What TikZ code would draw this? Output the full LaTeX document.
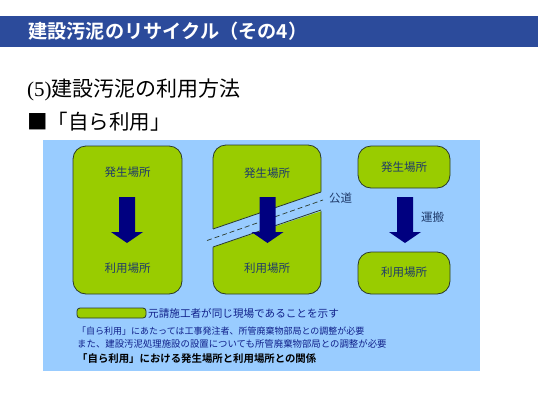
\documentclass[tikz,border=0pt]{standalone}
\usepackage{fontspec}
\newfontfamily\jp{Noto Sans CJK JP}
\newfontfamily\jpb{Noto Sans CJK JP Bold}
\newfontfamily\tms{Liberation Serif}
\definecolor{barblue}{HTML}{2C4B9B}
\definecolor{panelblue}{HTML}{99CCFF}
\definecolor{leaf}{HTML}{99CC00}
\definecolor{navyarrow}{HTML}{000080}
\definecolor{boxtext}{HTML}{1F3A6A}
\definecolor{notetext}{HTML}{10208A}
\definecolor{edge}{HTML}{2A3A2A}
\tikzset{
  site/.style={fill=leaf, draw=edge, line width=0.8pt, rounded corners=13pt},
  sitelabel/.style={font=\jp\fontsize{11.5}{12}\selectfont, text=boxtext, inner sep=0pt},
  blockarrow/.pic={\fill[navyarrow] (-8,0) -- (8,0) -- (8,35) -- (16,35) -- (0,46) -- (-16,35) -- (-8,35) -- cycle;},
}
\begin{document}
\begin{tikzpicture}[x=1pt,y=-1pt]
\useasboundingbox (0,0) rectangle (540,405);
\fill[white] (0,0) rectangle (540,405);
% title bar
\fill[barblue] (0,16) rectangle (538,47);
\node[anchor=west, inner sep=0pt, text=white, font=\jpb\fontsize{19.2}{20}\selectfont] (title) at (28,31.5) {建設汚泥のリサイクル（その4）};
\node[anchor=west, inner sep=0pt, font=\jp\fontsize{21}{22}\selectfont] (sub) at (27,90) {{\tms (5)}建設汚泥の利用方法};
\node[anchor=west, inner sep=0pt, font=\jp\fontsize{20.5}{22}\selectfont] (self) at (27,122) {■「自ら利用」};
% panel
\fill[panelblue] (43,140) rectangle (480,371);
% box 1
\draw[site] (73,146) rectangle (182,294);
\node[sitelabel] (g1) at (127.5,172) {発生場所};
\node[sitelabel] (u1) at (127.5,268) {利用場所};
\pic at (127,197) {blockarrow};
% box 2 with road
\draw[site] (213,145) rectangle (321,294);
\fill[panelblue] (211,229.5) -- (323,191.3) -- (323,210.5) -- (211,247.7) -- cycle;
\draw[edge, line width=0.8pt] (213,229) -- (321,192);
\draw[edge, line width=0.8pt] (213,247) -- (321,210);
\draw[edge, line width=0.7pt, dash pattern=on 5pt off 3pt] (207,240.5) -- (323,200);
\node[sitelabel, anchor=west] (road) at (329,198) {公道};
\node[sitelabel] (g2) at (267,173) {発生場所};
\node[sitelabel] (u2) at (267,268) {利用場所};
\pic at (267.5,197) {blockarrow};
% box 3
\draw[site] (358,146) rectangle (450,188);
\node[sitelabel] (g3) at (404,167) {発生場所};
\draw[site] (358,252) rectangle (450,294);
\node[sitelabel] (u3) at (404,272.5) {利用場所};
\pic at (405,197) {blockarrow};
\node[sitelabel, anchor=west] (carry) at (421,217) {運搬};
% legend
\draw[fill=leaf, draw=edge, line width=0.8pt, rounded corners=3pt] (77,308) rectangle (146,318);
\node[anchor=west, inner sep=0pt, text=notetext, font=\jp\fontsize{10.6}{11}\selectfont] (legend) at (148,313) {元請施工者が同じ現場であることを示す};
\node[anchor=west, inner sep=0pt, text=notetext, font=\jp\fontsize{9.0}{9.5}\selectfont] (note1) at (77,331) {「自ら利用」にあたっては工事発注者、所管廃棄物部局との調整が必要};
\node[anchor=west, inner sep=0pt, text=notetext, font=\jp\fontsize{9.4}{9.5}\selectfont] (note2) at (77,344) {また、建設汚泥処理施設の設置についても所管廃棄物部局との調整が必要};
\node[anchor=west, inner sep=0pt, font=\jpb\fontsize{10.4}{11}\selectfont] (caption) at (77,359) {「自ら利用」における発生場所と利用場所との関係};
\end{tikzpicture}
\end{document}
